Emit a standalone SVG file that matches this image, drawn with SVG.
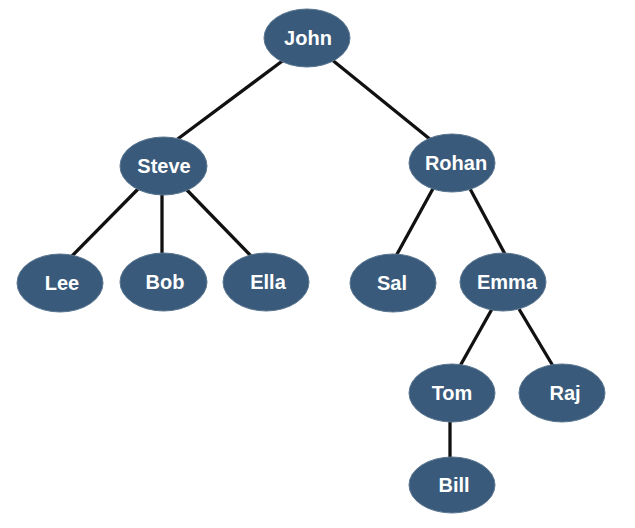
<svg xmlns="http://www.w3.org/2000/svg" width="635" height="528" viewBox="0 0 635 528">
<style>
.n ellipse{fill:#395a7a;stroke:#5a7690;stroke-width:1}
.n text{fill:#fff;font-family:"Liberation Sans",Arial,sans-serif;font-weight:bold;font-size:20px;text-anchor:middle}
#edges line{stroke:#111;stroke-width:3.3;stroke-linecap:butt}
</style>
<rect width="635" height="528" fill="#fff"/>
<g id="edges">
<line x1="285" y1="59" x2="175" y2="141"/>
<line x1="331" y1="59" x2="431" y2="140"/>
<line x1="140" y1="187" x2="70" y2="258"/>
<line x1="162" y1="192" x2="162" y2="257"/>
<line x1="184" y1="187" x2="253" y2="258"/>
<line x1="435" y1="185" x2="396" y2="256"/>
<line x1="468" y1="185" x2="506" y2="256"/>
<line x1="492" y1="309" x2="460" y2="366"/>
<line x1="519" y1="309" x2="553" y2="366"/>
<line x1="450" y1="419" x2="450" y2="460"/>
</g>
<g id="john" class="n"><ellipse cx="307" cy="38" rx="43" ry="29"/><text x="308" y="45">John</text></g>
<g id="steve" class="n"><ellipse cx="163.5" cy="166" rx="43.5" ry="29"/><text x="164" y="173">Steve</text></g>
<g id="rohan" class="n"><ellipse cx="452" cy="163" rx="43" ry="29"/><text x="456" y="170">Rohan</text></g>
<g id="lee" class="n"><ellipse cx="60" cy="283" rx="43" ry="29"/><text x="62" y="290">Lee</text></g>
<g id="bob" class="n"><ellipse cx="163.5" cy="282" rx="43.5" ry="29"/><text x="165" y="289">Bob</text></g>
<g id="ella" class="n"><ellipse cx="266" cy="282" rx="43" ry="29"/><text x="268" y="289">Ella</text></g>
<g id="sal" class="n"><ellipse cx="393" cy="283" rx="43" ry="29"/><text x="392" y="290">Sal</text></g>
<g id="emma" class="n"><ellipse cx="503" cy="282" rx="43" ry="29"/><text x="507" y="289">Emma</text></g>
<g id="tom" class="n"><ellipse cx="452" cy="393" rx="43" ry="29"/><text x="452" y="400">Tom</text></g>
<g id="raj" class="n"><ellipse cx="562" cy="393" rx="43" ry="29"/><text x="565" y="400">Raj</text></g>
<g id="bill" class="n"><ellipse cx="452" cy="485" rx="43" ry="28"/><text x="454" y="492">Bill</text></g>
</svg>
